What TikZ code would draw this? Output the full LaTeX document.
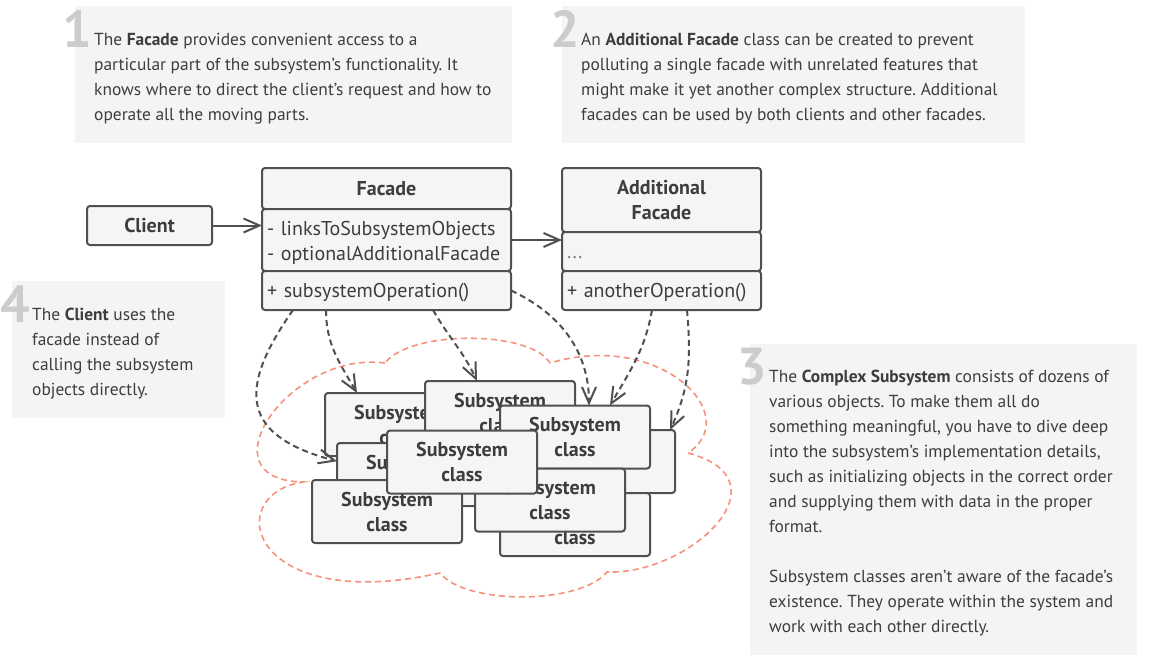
\documentclass[tikz,border=0pt]{standalone}
\usepackage{fontspec}
\setmainfont{PT Sans}
\usetikzlibrary{positioning,arrows.meta}
\definecolor{notefill}{HTML}{F4F4F4}
\definecolor{numgray}{HTML}{CCCCCC}
\definecolor{txtgray}{HTML}{3D3D3D}
\definecolor{linegray}{HTML}{505050}
\definecolor{boxfill}{HTML}{F5F5F5}
\definecolor{cloudred}{HTML}{F7917C}
\frenchspacing
\begin{document}
\begin{tikzpicture}[x=1pt,y=1pt,
  note/.style={fill=notefill,inner sep=0pt,anchor=north west},
  notetext/.style={inner sep=0pt,anchor=north west,align=left,text=txtgray,font=\fontsize{17.4}{25}\selectfont},
  num/.style={inner sep=0pt,anchor=base west,text=numgray,font=\fontsize{52}{52}\selectfont\bfseries},
  part/.style={draw=linegray,fill=boxfill,line width=2pt,rounded corners=3pt,outer sep=0pt,text=txtgray,font=\fontsize{20}{25}\selectfont},
  head/.style={part,align=center,font=\fontsize{20}{25}\selectfont\bfseries},
  attrs/.style={part,align=left,inner xsep=5pt},
  oneline/.style={attrs,minimum height=39pt,text depth=0pt},
  sub/.style={head,minimum width=150pt,minimum height=63pt},
  assoc/.style={linegray,line width=2pt,-{Straight Barb[length=16pt,width=14pt]}},
  dep/.style={assoc,dash pattern=on 6pt off 4pt},
  cloud/.style={cloudred,line width=1.6pt,dash pattern=on 6pt off 4pt}]
\useasboundingbox[fill=white] (0,0) rectangle (1153,-662);

% notes
\node[note,minimum width=437pt,minimum height=137pt] (note1) at (75,-6) {};
\node[notetext] (text1) at (94,-33) {The \textbf{Facade} provides convenient access to a\\particular part of the subsystem’s functionality. It\\knows where to direct the client’s request and how to\\operate all the moving parts.};
\node[num] (num1) at (62,-47) {1};

\node[note,minimum width=463pt,minimum height=137pt] (note2) at (562,-6) {};
\node[notetext] (text2) at (581,-33) {An \textbf{Additional Facade} class can be created to prevent\\polluting a single facade with unrelated features that\\might make it yet another complex structure. Additional\\facades can be used by both clients and other facades.};
\node[num] (num2) at (550,-47) {2};

\node[note,minimum width=213pt,minimum height=137pt] (note4) at (12,-281) {};
\node[notetext] (text4) at (32,-308) {The \textbf{Client} uses the\\facade instead of\\calling the subsystem\\objects directly.};
\node[num] (num4) at (0,-322) {4};

\node[note,minimum width=387pt,minimum height=311pt] (note3) at (750,-344) {};
\node[notetext] (text3) at (769,-370) {The \textbf{Complex Subsystem} consists of dozens of\\various objects. To make them all do\\something meaningful, you have to dive deep\\into the subsystem’s implementation details,\\such as initializing objects in the correct order\\and supplying them with data in the proper\\format.\\[25pt]Subsystem classes aren’t aware of the facade’s\\existence. They operate within the system and\\work with each other directly.};
\node[num] (num3) at (737,-384) {3};

% subsystem cloud
\draw[cloud] (385,-363) .. controls (290,-350) and (200,-480) .. (303,-482)
  .. controls (220,-495) and (250,-615) .. (440,-573)
  .. controls (465,-605) and (580,-605) .. (607,-572)
  .. controls (690,-575) and (790,-480) .. (688,-453)
  .. controls (745,-415) and (660,-330) .. (550,-363)
  .. controls (530,-330) and (410,-330) .. cycle;

% classes
\node[head,minimum width=125pt,minimum height=39pt] (client) at (149.5,-225.5) {Client};

\node[head,minimum width=249pt,minimum height=41pt] (facadeHead) at (386.5,-188.5) {Facade};
\node[attrs,text width=239pt,minimum height=62pt,text height=15pt,text depth=25pt,below=0pt of facadeHead] (facadeAttrs) {- linksToSubsystemObjects\\- optionalAdditionalFacade};
\node[oneline,text width=239pt,text height=13pt,below=0pt of facadeAttrs] (facadeOps) {+ subsystemOperation()};

\node[head,minimum width=199pt,minimum height=64pt] (addHead) at (661.5,-200) {Additional\\Facade};
\node[oneline,text width=189pt,text height=14pt,below=0pt of addHead] (addDots) {\textcolor{gray}{...}};
\node[oneline,text width=189pt,text height=13pt,below=0pt of addDots] (addOps) {+ anotherOperation()};

\node[sub] (subA) at (400,-424.5) {Subsystem\\class};
\node[sub] (subB) at (500,-412.5) {Subsystem\\class};
\node[sub] (subD) at (600,-461.5) {Subsystem\\class};
\node[sub] (subF) at (575,-524.5) {Subsystem\\class};
\node[sub] (subE) at (575,-437) {Subsystem\\class};
\node[sub] (subC) at (412,-474.5) {Subsystem\\class};
\node[sub] (subG) at (550,-500) {Subsystem\\class};
\node[sub] (subI) at (387,-511.5) {Subsystem\\class};
\node[sub] (subH) at (462,-462) {Subsystem\\class};

% links
\draw[assoc] (client.east) -- (client.east -| facadeAttrs.west);
\draw[assoc] (facadeAttrs.east) -- (facadeAttrs.east -| addDots.west);

\draw[dep] ([xshift=31pt]facadeOps.south west) to[out=235,in=165,looseness=1.6] (subC.170);
\draw[dep] ([xshift=64pt]facadeOps.south west) to[out=270,in=120] ([xshift=32pt]subA.north west);
\draw[dep] ([xshift=171pt]facadeOps.south west) to[out=-60,in=115] ([xshift=52pt]subB.north west);
\draw[dep] (facadeOps.east) to[out=-25,in=90] ([xshift=89pt]subE.north west);
\draw[dep] ([xshift=90pt]addOps.south west) to[out=260,in=60] ([xshift=110pt]subE.north west);
\draw[dep] ([xshift=125pt]addOps.south west) to[out=-85,in=65] ([xshift=-5pt]subD.north east);
\end{tikzpicture}
\end{document}
